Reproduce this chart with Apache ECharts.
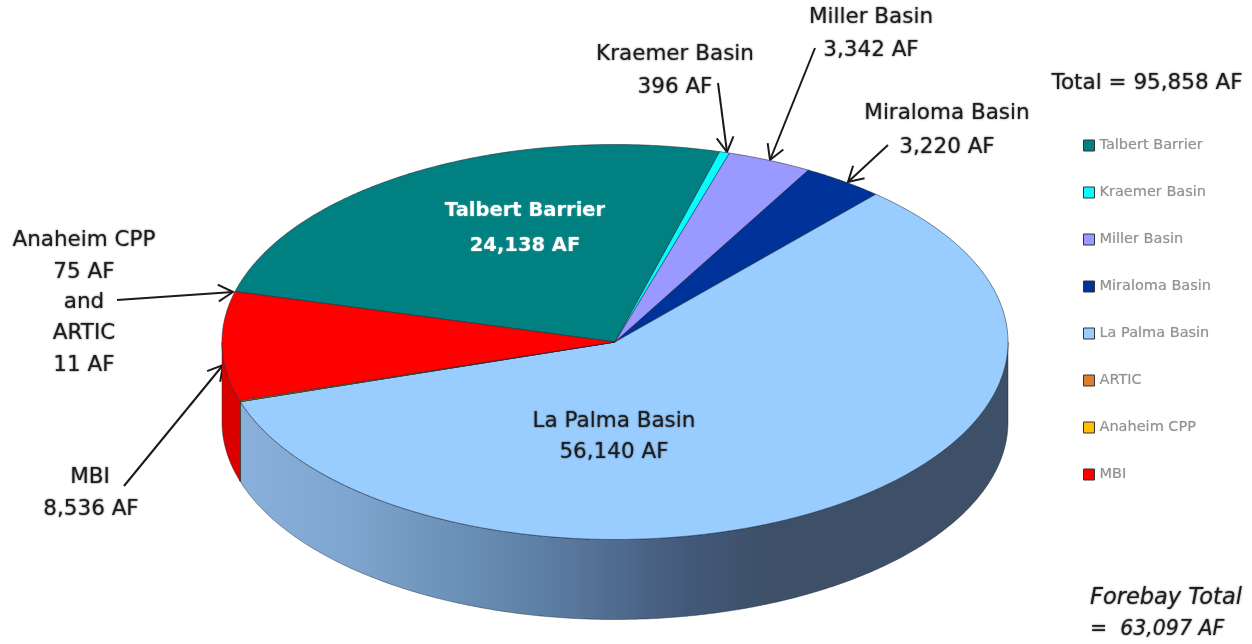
<!DOCTYPE html>
<html><head><meta charset="utf-8">
<style>html,body{margin:0;padding:0;background:#fff}#c{width:1252px;height:644px}</style>
<script src="https://cdn.jsdelivr.net/npm/echarts@6/dist/echarts.min.js"></script>
</head><body><div id="c"></div>
<script>
// ---- data ----
const categories = ['Talbert Barrier','Kraemer Basin','Miller Basin','Miraloma Basin','La Palma Basin','ARTIC','Anaheim CPP','MBI'];
const values = [24138,396,3342,3220,56140,11,75,8536];
const colors = ['#008080','#00FFFF','#9999FF','#003399','#99CCFF','#DD7D2E','#FFC000','#FF0000'];
const forebayTotal = 63097;
// ---- layout ----
const P = {cx:615, cy:342, rx:393, ry:197.5, depth:80, start:-75.2};
const FONT = '"DejaVu Sans",sans-serif';
const total = values.reduce((a,b)=>a+b,0);
const fmt = v => v.toLocaleString('en-US') + ' AF';
const spans = values.map(v=>v/total*360);
const starts = spans.map((_,i)=>P.start+spans.slice(0,i).reduce((a,b)=>a+b,0));
const rim = (deg,dy=0)=>{const t=deg*Math.PI/180;return [P.cx+P.rx*Math.sin(t),P.cy-P.ry*Math.cos(t)+dy];};
function arc(a,b,dy){const pts=[],n=Math.max(2,Math.ceil(Math.abs(b-a)/0.5));for(let i=0;i<=n;i++)pts.push(rim(a+(b-a)*i/n,dy));return pts;}
const wallFill = [
  null,null,null,null,
  new echarts.graphic.LinearGradient(240,0,765,0,[
    {offset:0,color:'#88B0DA'},{offset:0.2,color:'#7FA6D0'},{offset:0.55,color:'#5F83A8'},
    {offset:0.85,color:'#43597A'},{offset:1,color:'#3D5068'}],true),
  '#C07030','#D9A000','#D90000'
];
const edge = 'rgba(25,35,45,0.75)';
const renderSlice = i => () => {
  const a=starts[i], b=a+spans[i], children=[];
  const lo=Math.max(a,90), hi=Math.min(b,270);
  if(hi>lo){
    children.push({type:'polygon',silent:true,shape:{points:arc(lo,hi,0).concat(arc(hi,lo,P.depth))},
      style:{fill:wallFill[i],stroke:'rgba(25,35,45,0.55)',lineWidth:0.8}});
  }
  children.push({type:'polygon',silent:true,shape:{points:[[P.cx,P.cy]].concat(arc(a,b,0))},
    style:{fill:colors[i],stroke:edge,lineWidth:0.7}});
  return {type:'group',children};
};
const series = categories.map((name,i)=>({
  type:'custom',name,coordinateSystem:'none',silent:true,
  itemStyle:{color:colors[i]},color:colors[i],
  data:[[values[i]]],renderItem:renderSlice(i)
}));
// ---- annotations ----
function text(str,x,y,o={}){return {type:'text',silent:true,x,y,z:50,style:Object.assign({
  text:str,fill:'#1c1c1c',font:'21.5px '+FONT,textAlign:'center',textVerticalAlign:'middle',
  textShadowColor:'rgba(30,30,30,0.75)',textShadowBlur:2},o)};}
const idx = n=>categories.indexOf(n);
const val = n=>fmt(values[idx(n)]);
const white = {fill:'#fff',font:'bold 19.5px '+FONT,textShadowColor:'rgba(255,255,255,0.45)'};
const ital = {textAlign:'left',font:'italic 22.5px '+FONT};
const ital2 = {textAlign:'left',font:'italic 20.5px '+FONT};
const labels = [
  text('Kraemer Basin',675,54), text(val('Kraemer Basin'),675,87),
  text('Miller Basin',871,17), text(val('Miller Basin'),871,50),
  text('Miraloma Basin',947,113), text(val('Miraloma Basin'),947,147),
  text('Total = '+fmt(total),1147,83),
  text('Talbert Barrier',525,211,white),
  text(val('Talbert Barrier'),525,246,white),
  text('La Palma Basin',614,421), text(val('La Palma Basin'),614,452),
  text('Anaheim CPP',84,240), text(val('Anaheim CPP'),84,272), text('and',84,302),
  text('ARTIC',84,333), text(val('ARTIC'),84,365),
  text('MBI',90,477), text(val('MBI'),91,509),
  text('Forebay Total',1090,598,ital),
  text('=  '+forebayTotal.toLocaleString('en-US')+' AF',1090,630,ital2)
];
const arrowPaths = [[718,83,727,152],[815,48,770,160],[888,145,848,182],[117,300,233,292],[124,486,223,365]];
const arrows = arrowPaths.map(([x0,y0,x1,y1])=>{
  const t=Math.atan2(y1-y0,x1-x0),L=17,w=0.52;
  const pa=[x1-L*Math.cos(t-w),y1-L*Math.sin(t-w)],pb=[x1-L*Math.cos(t+w),y1-L*Math.sin(t+w)];
  const st={stroke:'#1a1a1a',lineWidth:2,fill:null};
  return {type:'group',z:60,silent:true,children:[
    {type:'line',shape:{x1:x0,y1:y0,x2:x1,y2:y1},style:st},
    {type:'polyline',shape:{points:[pa,[x1,y1],pb]},style:st}
  ]};
});
const chart = echarts.init(document.getElementById('c'),null,{renderer:'canvas'});
chart.setOption({
  animation:false,backgroundColor:'#fff',
  legend:{orient:'vertical',left:1078,top:133,itemWidth:11,itemHeight:11,itemGap:32,selectedMode:false,icon:'rect',
    data:categories,itemStyle:{borderColor:'#333',borderWidth:1},
    textStyle:{color:'#929292',fontSize:14.5,fontFamily:FONT,textShadowColor:'rgba(120,120,120,0.5)',textShadowBlur:1}},
  series,
  graphic:{elements:labels.concat(arrows)}
});
</script></body></html>
